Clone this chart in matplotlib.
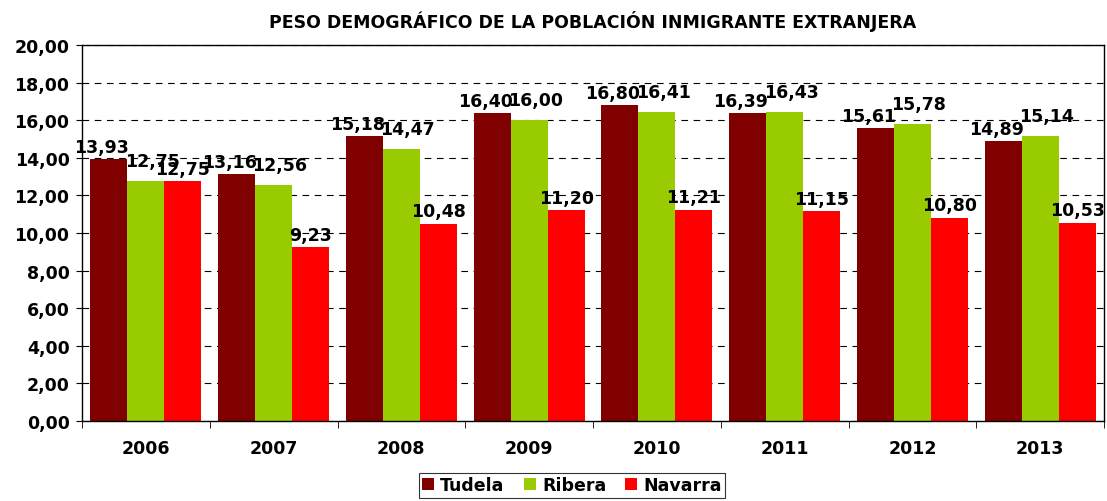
import numpy as np
import matplotlib.pyplot as plt

years = ['2006', '2007', '2008', '2009', '2010', '2011', '2012', '2013']
tudela = [13.93, 13.16, 15.18, 16.40, 16.80, 16.39, 15.61, 14.89]
ribera = [12.75, 12.56, 14.47, 16.00, 16.41, 16.43, 15.78, 15.14]
navarra = [12.75, 9.23, 10.48, 11.20, 11.21, 11.15, 10.80, 10.53]

series = [('Tudela', tudela, '#800000'),
          ('Ribera', ribera, '#99cc00'),
          ('Navarra', navarra, '#ff0000')]
# small nudge of the value labels, like Excel does
label_dx = [-0.055, 0.05, 0.0]
label_dy = [0.15, 0.6, 0.2]

fig = plt.figure(figsize=(11.07, 5.02), dpi=100)
# plot area: x 82..1104 px, y 46..422 px
ax = fig.add_axes([82 / 1107, 80 / 502, 1022 / 1107, 376 / 502])

x = np.arange(len(years))
w = 0.29
for i, (name, vals, col) in enumerate(series):
    pos = x + (i - 1) * w
    ax.bar(pos, vals, w, color=col, label=name, zorder=2)
    for p, v in zip(pos, vals):
        ax.text(p + label_dx[i], v + label_dy[i], f'{v:.2f}'.replace('.', ','),
                ha='center', va='bottom', fontsize=12.5, fontweight='bold', zorder=3)

ax.set_xlim(-0.5, len(years) - 0.5)
ax.set_ylim(0, 20)
ticks = np.arange(0, 20.01, 2)
ax.set_yticks(ticks)
ax.set_yticklabels([f'{t:.2f}'.replace('.', ',') for t in ticks])
ax.set_xticks(x)
ax.set_xticklabels(years)
ax.set_xticks(np.arange(-0.5, len(years), 1), minor=True)
ax.tick_params(axis='x', which='major', length=0, pad=13)
ax.tick_params(axis='x', which='minor', length=5, direction='out')
ax.tick_params(axis='y', length=4, direction='out', pad=5)
for lab in ax.get_xticklabels() + ax.get_yticklabels():
    lab.set_fontsize(12.5)
    lab.set_fontweight('bold')
ax.yaxis.grid(True, linestyle=(0, (6, 5)), color='black', linewidth=0.8, zorder=0)
for s in ax.spines.values():
    s.set_color('black')
    s.set_linewidth(1)

ax.set_title('PESO DEMOGRÁFICO DE LA POBLACIÓN INMIGRANTE EXTRANJERA',
             fontsize=12.5, fontweight='bold', pad=13)

leg = fig.legend(loc='upper center', bbox_to_anchor=(572 / 1107, 1 - 474 / 502), ncol=3,
                 frameon=True, fancybox=False, handlelength=0.7, handleheight=0.7,
                 handletextpad=0.35, columnspacing=1.1, borderpad=0.2,
                 borderaxespad=0, prop={'weight': 'bold', 'size': 12.5})
leg.get_frame().set_edgecolor('black')
leg.get_frame().set_linewidth(0.8)

plt.savefig('out.png', dpi=100)
